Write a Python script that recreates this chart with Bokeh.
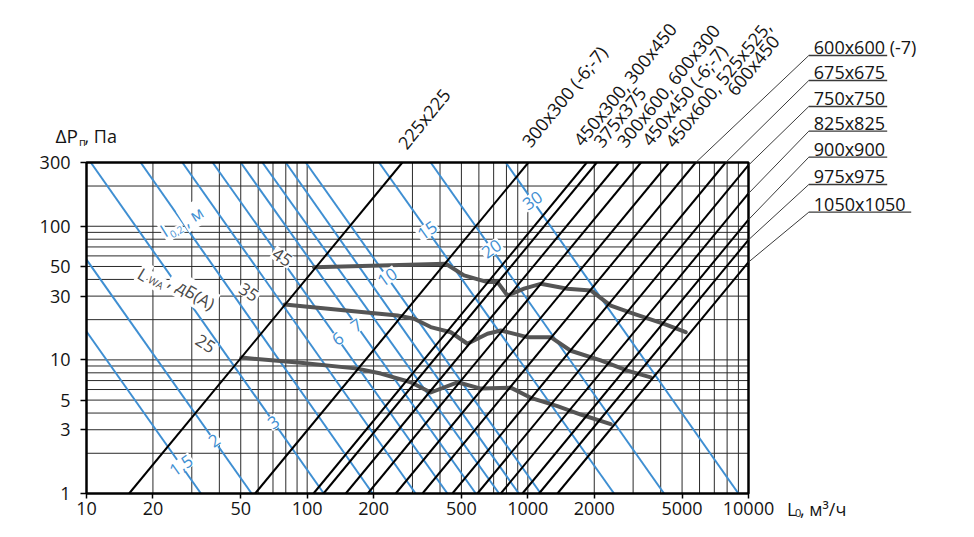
import math
from bokeh.plotting import figure
from bokeh.models import FixedTicker, BasicTickFormatter, Label, Range1d
from bokeh.embed import file_html
from bokeh.resources import INLINE

# ---------------- data ----------------
x_ticks = [10, 20, 50, 100, 200, 500, 1000, 2000, 5000, 10000]
y_ticks = [1, 3, 5, 10, 30, 50, 100, 300]
x_grid = [20, 30, 40, 50, 60, 70, 80, 90, 100, 200, 300, 400, 500, 600, 700, 800, 900,
          1000, 2000, 3000, 4000, 5000, 6000, 7000, 8000, 9000]
y_grid = [2, 3, 4, 5, 6, 7, 8, 9, 10, 20, 30, 40, 50, 60, 70, 80, 90, 100, 200]

# duct size lines (black): air flow at dP = 1 Pa and at dP = 300 Pa
duct_names = ["225x225", "300x300", "450x300", "375x375", "300x600", "450x450", "450x600",
              "600x600", "675x675", "750x750", "825x825", "900x900", "975x975", "1050x1050"]
duct_L_1pa = [15.6, 58.1, 106.8, 118.6, 149.6, 188.2, 252, 333, 455, 591, 754, 945, 1124, 1362]
duct_L_300pa = [270, 1006, 1850, 2054, 2591, 3260, 4365, 5768, 7881, 10236, 13060, 16367, 19468, 23590]

# throw length lines l0,2 (blue): air flow at dP = 1 Pa and at dP = 300 Pa
throw_m = [1.5, 2, 3, 4, 5, 6, 7, 8, 9, 10, 15, 20, 30]
throw_L_1pa = [33.0, 56.0, 119, 198, 310, 432, 581, 741, 910, 1144, 2458, 4142, 9001]
throw_L_300pa = [2.88, 4.89, 10.46, 17.6, 27.2, 37.3, 50.0, 62.7, 80.0, 98.6, 211.8, 363, 794]
throw_labels = ["1,5", "2", "3", "6", "7", "10", "15", "20", "30"]
throw_label_of = [1.5, 2, 3, 6, 7, 10, 15, 20, 30]

# sound power level curves LwA (grey)
noise_levels = ["25", "35", "45"]
noise25_L = [50.3, 93.5, 169, 215.6, 294.8, 363, 480, 612, 836.6, 1031, 1362, 1737, 2375]
noise25_dP = [10.4, 9.5, 8.6, 7.9, 6.8, 5.7, 6.8, 6.1, 6.2, 5.2, 4.5, 3.9, 3.3]
noise35_L = [79.1, 181, 256.5, 305, 363, 447.5, 532.5, 656, 754, 995, 1270, 1564, 2139, 2827, 3605]
noise35_dP = [26.0, 22.7, 21.5, 20.3, 17.6, 16.1, 13.2, 15.7, 16.6, 14.8, 14.8, 11.7, 9.9, 8.3, 7.4]
noise45_L = [107.3, 215.6, 424.6, 514, 656, 728.5, 808, 961, 1144, 1511, 1928, 2375, 3029, 4140, 5195]
noise45_dP = [49.4, 50.9, 52.4, 42.9, 38.2, 38.2, 30.3, 34.1, 37.1, 34.1, 33.1, 25.5, 22.1, 18.6, 16.1]

top_labels = ["225x225", "300x300 (-6;-7)", "450x300, 300x450", "375x375", "300x600, 600x300",
              "450x450 (-6;-7)", "450x600, 525x525,", "600x450"]
right_labels = ["600x600 (-7)", "675x675", "750x750", "825x825", "900x900", "975x975", "1050x1050"]

# ---------------- layout (canvas pixels) ----------------
W, H = 966, 530
FL, FR, FT, FB = 86, 748, 162, 493          # chart box
XMIN, XMAX, YMIN, YMAX = 10, 10000, 1, 300
FONT = "Open Sans"
BLUE = "#3f8fd2"
GREY = "#555555"
INK = "#141414"
BASE_SHIFT = 6.5
LX0, LX1 = math.log10(XMIN), math.log10(XMAX)
LY0, LY1 = math.log10(YMIN), math.log10(YMAX)


def xd(px):
    return 10 ** (LX0 + (px - FL) / (FR - FL) * (LX1 - LX0))


def yd(py):
    return 10 ** (LY0 + (FB - py) / (FB - FT) * (LY1 - LY0))


def line_L_at(L1, L300, dp):
    a, b = math.log10(L1), math.log10(L300)
    return 10 ** (a + (b - a) * (math.log10(dp) - LY0) / (LY1 - LY0))


def clip_box(x0, y0, x1, y1):
    """clip a straight log-log segment to the chart box, returns data end points"""
    ax, ay, bx, by = math.log10(x0), math.log10(y0), math.log10(x1), math.log10(y1)
    dx, dy = bx - ax, by - ay
    t0, t1 = 0.0, 1.0
    for pp, qq in ((-dx, ax - LX0), (dx, LX1 - ax), (-dy, ay - LY0), (dy, LY1 - ay)):
        if pp == 0:
            continue
        r = qq / pp
        if pp < 0:
            t0 = max(t0, r)
        else:
            t1 = min(t1, r)
    return (10 ** (ax + t0 * dx), 10 ** (ay + t0 * dy), 10 ** (ax + t1 * dx), 10 ** (ay + t1 * dy))


p = figure(x_axis_type="log", y_axis_type="log",
           x_range=Range1d(xd(0), xd(W)), y_range=Range1d(yd(H), yd(0)),
           width=W, height=H, min_border=0,
           output_backend="svg", toolbar_location=None)
p.background_fill_color = "white"
p.border_fill_color = "white"
p.outline_line_color = None
p.xgrid.visible = False
p.ygrid.visible = False

# axes placed on the chart box edges
p.xaxis.fixed_location = YMIN
p.yaxis.fixed_location = XMIN
p.xaxis.bounds = (XMIN, XMAX)
p.yaxis.bounds = (YMIN, YMAX)
p.xaxis.ticker = FixedTicker(ticks=x_ticks, minor_ticks=[])
p.yaxis.ticker = FixedTicker(ticks=y_ticks, minor_ticks=[])
for ax in (p.xaxis, p.yaxis):
    ax.formatter = BasicTickFormatter()
    ax.axis_line_color = None
    ax.major_tick_line_color = "black"
    ax.major_tick_line_width = 1.5
    ax.major_tick_in = 0
    ax.minor_tick_line_color = None
    ax.major_label_text_font = FONT
    ax.major_label_text_font_size = "18px"
    ax.major_label_text_color = INK
p.xaxis.major_tick_out = 5
p.yaxis.major_tick_out = 6
p.xaxis.major_label_standoff = 3
p.yaxis.major_label_standoff = 10

# grid
p.segment(x0=x_grid, y0=[YMIN] * len(x_grid), x1=x_grid, y1=[YMAX] * len(x_grid),
          line_color="#2a2a2a", line_width=1)
p.segment(x0=[XMIN] * len(y_grid), y0=y_grid, x1=[XMAX] * len(y_grid), y1=y_grid,
          line_color="#2a2a2a", line_width=1)

# throw length lines
bl = [clip_box(a, YMAX, b, YMIN) for a, b in zip(throw_L_300pa, throw_L_1pa)]
p.segment(x0=[s[0] for s in bl], y0=[s[1] for s in bl], x1=[s[2] for s in bl], y1=[s[3] for s in bl],
          line_color=BLUE, line_width=2)

# noise curves
for Ls, dPs in ((noise25_L, noise25_dP), (noise35_L, noise35_dP), (noise45_L, noise45_dP)):
    p.line(Ls, dPs, line_color=GREY, line_width=4, line_join="round", line_cap="round")

# duct lines
dl = [clip_box(a, YMIN, b, YMAX) for a, b in zip(duct_L_1pa, duct_L_300pa)]
p.segment(x0=[s[0] for s in dl], y0=[s[1] for s in dl], x1=[s[2] for s in dl], y1=[s[3] for s in dl],
          line_color="black", line_width=2)

# chart box
p.quad(left=[XMIN], right=[XMAX], bottom=[YMIN], top=[YMAX], fill_color=None,
       line_color="black", line_width=2.5)


def lbl(px, py, text, size=18, color=INK, angle=0, align="left", baseline="alphabetic", bg=None):
    if baseline == "alphabetic":
        a = math.radians(angle)
        px -= math.sin(a) * BASE_SHIFT
        py -= math.cos(a) * BASE_SHIFT
    kw = dict(x=xd(px), y=yd(py), text=text, angle=angle, angle_units="deg",
              text_font=FONT, text_font_size=f"{size}px", text_color=color,
              text_align=align, text_baseline=baseline)
    if bg:
        kw.update(background_fill_color=bg, padding=1)
    p.add_layout(Label(**kw))


# blue labels on throw lines (placed on the line at a given pressure)
throw_label_py = [465, 440, 421.7, 338.3, 325, 276.7, 230, 248.3, 200]
for t, m, py in zip(throw_labels, throw_label_of, throw_label_py):
    i = throw_m.index(m)
    dp = yd(py)
    p.add_layout(Label(x=line_L_at(throw_L_1pa[i], throw_L_300pa[i], dp), y=dp, text=t,
                       angle=35, angle_units="deg", text_font=FONT, text_font_size="17px",
                       text_color=BLUE, text_align="center", text_baseline="middle",
                       background_fill_color="white", padding=1))

# LwA level labels
for t, (px, py) in zip(noise_levels, [(205, 343.3), (248.3, 291.7), (281.7, 256.7)]):
    lbl(px, py, t, size=17, color="#4a4a4a", angle=-33, align="center", baseline="middle", bg="white")

# "LwA, дБ(А)" label
lbl(142.7, 274, "L", size=17, color="#4a4a4a", angle=-31, align="center", baseline="middle", bg="white")
lbl(155.5, 282, "WA", size=10, color="#4a4a4a", angle=-31, align="center", baseline="middle", bg="white")
lbl(191.5, 292, ", дБ(А)", size=17, color="#4a4a4a", angle=-31, align="center", baseline="middle", bg="white")

# "l0,2, м" label
lbl(163.5, 230.5, "l", size=17, color=BLUE, angle=32, align="center", baseline="middle", bg="white")
lbl(176.0, 231, "0,2", size=10, color=BLUE, angle=32, align="center", baseline="middle", bg="white")
lbl(192.0, 215.5, ", м", size=17, color=BLUE, angle=32, align="center", baseline="middle", bg="white")

# top labels (duct sizes)
top_pos = [(406, 150), (530, 148), (581.7, 146.7), (601.7, 148.3), (625, 148.3),
           (650, 146.7), (673.3, 148.3), (735, 96.5)]
for t, (px, py) in zip(top_labels, top_pos):
    lbl(px, py, t, size=18, angle=51)

# right labels with leaders
right_base = [55, 80, 106, 130.7, 156.7, 184, 211.7]
right_end = [886.7, 886.7, 886.7, 886.7, 886.7, 886.7, 910.7]
lx0, ly0, lx1, ly1, ux1 = [], [], [], [], []
for t, yb, xe in zip(right_labels, right_base, right_end):
    lbl(813.3, yb - 2, t, size=18)
    i = duct_names.index(t.split(" ")[0])
    c = clip_box(duct_L_1pa[i], YMIN, duct_L_300pa[i], YMAX)
    lx0.append(xd(808.3)); ly0.append(yd(yb)); lx1.append(c[2]); ly1.append(c[3]); ux1.append(xd(xe))
p.segment(x0=lx0, y0=ly0, x1=lx1, y1=ly1, line_color="#3a3a3a", line_width=1)
p.segment(x0=lx0, y0=ly0, x1=ux1, y1=ly0, line_color="#3a3a3a", line_width=1.3)

# axis titles
lbl(55, 142, "ΔP", size=19)
lbl(78.5, 147, "п", size=11)
lbl(84, 142, ", Па", size=18)
lbl(786.5, 515, "L", size=18)
lbl(794.5, 519, "0", size=11)
lbl(799.5, 515, ", м³/ч", size=18)

open("out.html", "w").write(file_html(p, INLINE))
